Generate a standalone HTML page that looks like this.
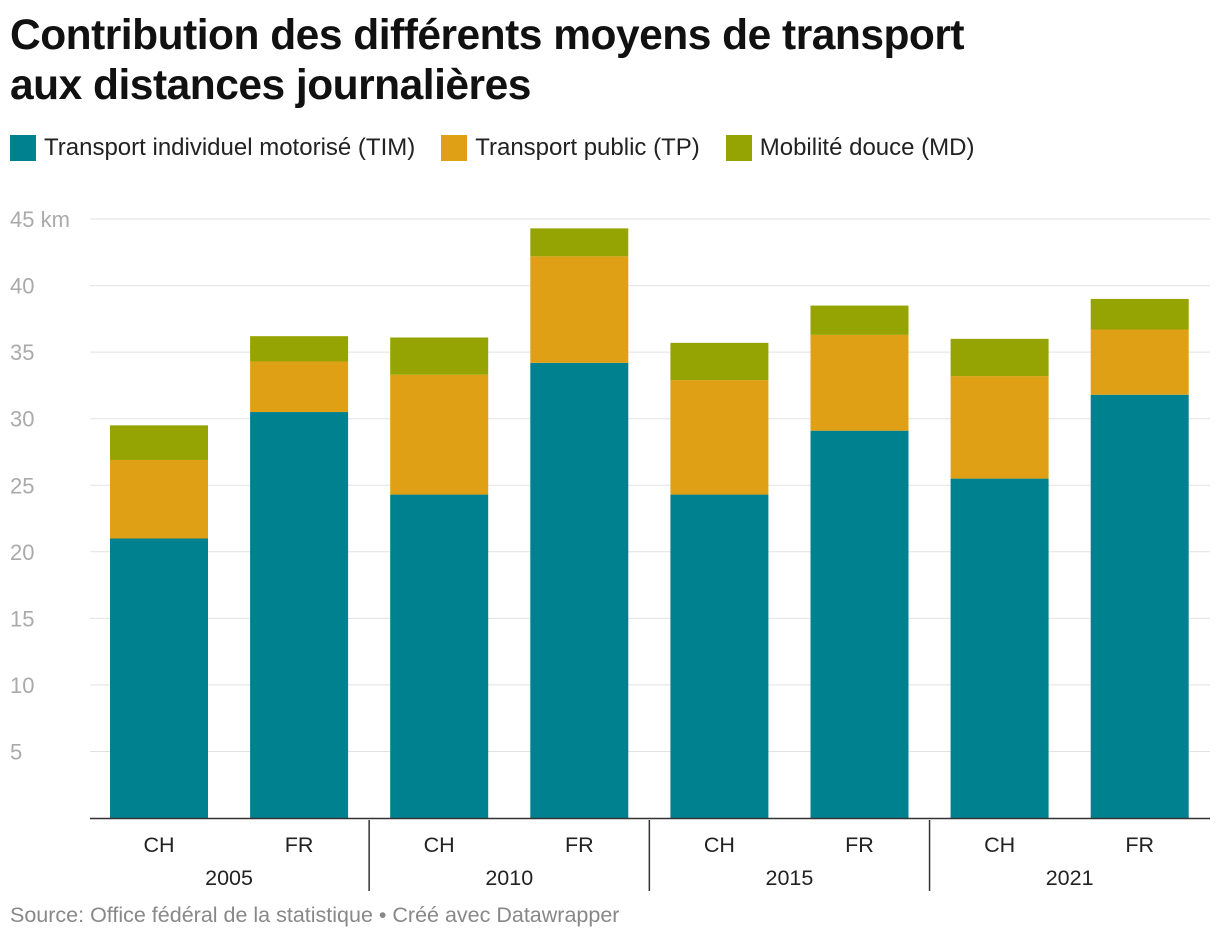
<!DOCTYPE html>
<html><head><meta charset="utf-8"><style>
body{margin:0;background:#fff;width:1220px;height:940px;overflow:hidden;font-family:"Liberation Sans",sans-serif}
h1{position:absolute;left:10px;top:11px;margin:0;font-size:42.5px;line-height:50px;font-weight:bold;color:#111;letter-spacing:-0.5px}
.legend{position:absolute;left:10px;top:134px;font-size:24px;color:#222;display:flex}
.li{display:flex;align-items:center;margin-right:26px}
.sw{width:26px;height:26px;margin-right:8px}
.src{position:absolute;left:10px;top:903px;font-size:21.5px;color:#888}
</style></head><body>
<h1>Contribution des différents moyens de transport<br>aux distances journalières</h1>
<div class="legend">
<div class="li"><div class="sw" style="background:#00818f"></div>Transport individuel motorisé (TIM)</div>
<div class="li"><div class="sw" style="background:#e0a016"></div>Transport public (TP)</div>
<div class="li"><div class="sw" style="background:#95a402"></div>Mobilité douce (MD)</div>
</div>
<svg id="chart" width="1220" height="940" style="position:absolute;left:0;top:0"></svg>
<div class="src">Source: Office fédéral de la statistique • Créé avec Datawrapper</div>
<script>
const categories=["CH","FR","CH","FR","CH","FR","CH","FR"];
const years=["2005","2010","2015","2021"];
const tim=[21.0,30.5,24.3,34.2,24.3,29.1,25.5,31.8];
const tp=[5.9,3.8,9.0,8.0,8.6,7.2,7.7,4.9];
const md=[2.6,1.9,2.8,2.1,2.8,2.2,2.8,2.3];
const ticks=[5,10,15,20,25,30,35,40,45];
const svg=document.getElementById('chart');
const NS='http://www.w3.org/2000/svg';
const y0=818,pxPer=13.31,x0=110,step=140.1,bw=98;
const y=v=>y0-v*pxPer;
const x=i=>x0+i*step;
function mk(t,a){const e=document.createElementNS(NS,t);for(const k in a)e.setAttribute(k,a[k]);svg.appendChild(e);return e;}
ticks.forEach(t=>{
 const g=mk('line',{x1:90,x2:1210,y1:y(t),y2:y(t),stroke:'#e2e2e2','stroke-width':1});
 
 
 const l=mk('text',{x:10,y:y(t)+8,'font-size':22,fill:'#aaa','font-family':'Liberation Sans'});
 l.textContent=t===45?'45 km':String(t);
 
 
});
const series=[[tim,'#00818f','tim'],[tp,'#e0a016','tp'],[md,'#95a402','md']];
categories.forEach((c,i)=>{
 let base=0;
 series.forEach(([arr,col,nm])=>{
  const v=arr[i];
  const r=mk('rect',{x:x(i),width:bw,y:y(base+v),height:v*pxPer,fill:col});
  
  
  base+=v;
 });
 const t=mk('text',{x:x(i)+bw/2,y:852,'font-size':21.5,fill:'#222','text-anchor':'middle','font-family':'Liberation Sans'});
 t.textContent=c;
 
 
});
mk('line',{x1:90,x2:1210,y1:y0+0.5,y2:y0+0.5,stroke:'#333','stroke-width':1.5});
years.forEach((yr,g)=>{
 const cx=(x(2*g)+x(2*g+1)+bw)/2;
 const t=mk('text',{x:cx,y:885,'font-size':21.5,fill:'#222','text-anchor':'middle','font-family':'Liberation Sans'});
 t.textContent=yr;
 
 
 if(g>0){
  const sx=(x(2*g-1)+bw+x(2*g))/2;
  const s=mk('line',{x1:sx,x2:sx,y1:820,y2:891,stroke:'#333','stroke-width':1.5});
  
  
 }
});
</script>
</body></html>
